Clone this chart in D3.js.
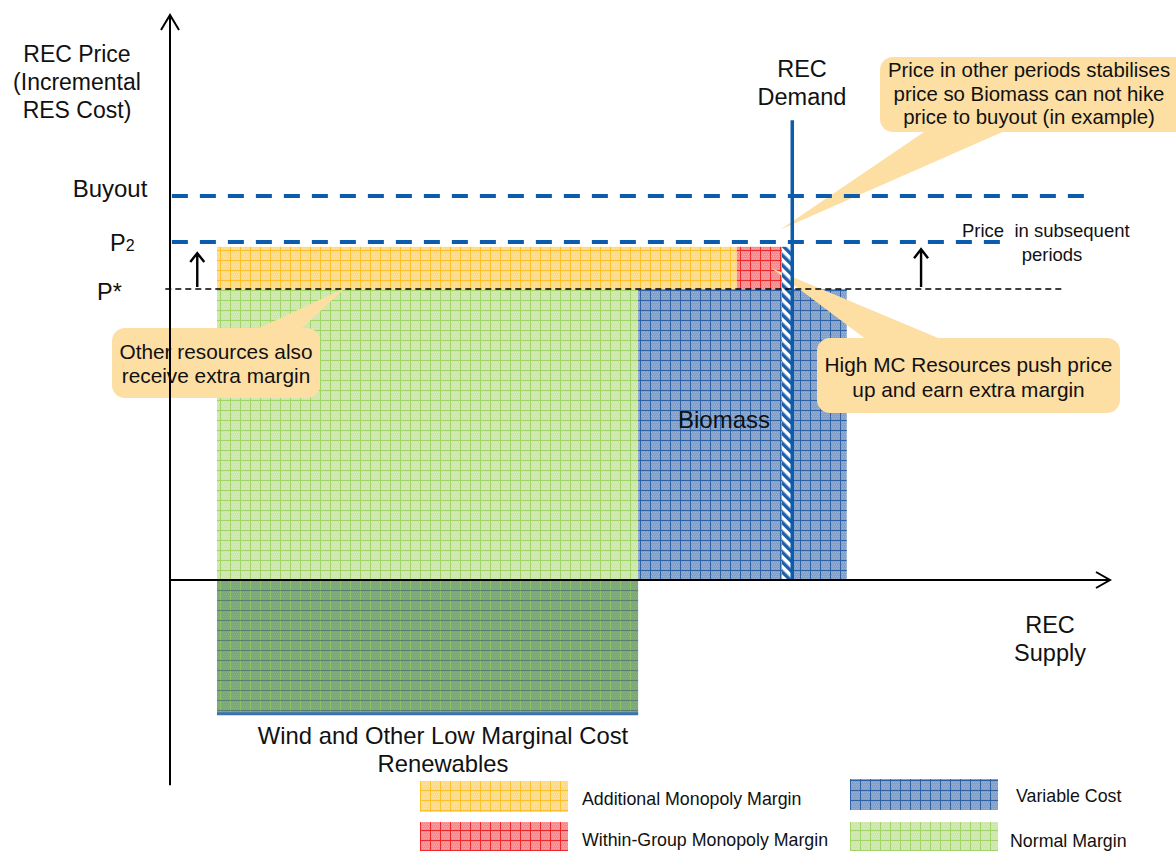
<!DOCTYPE html>
<html>
<head>
<meta charset="utf-8">
<script src="https://cdn.jsdelivr.net/npm/d3@7"></script>
<style>
  body { margin: 0; background: #fff; }
  svg text { font-family: "Liberation Sans", Arial, sans-serif; fill: #111; }
</style>
</head>
<body>
<div class="rec-chart"></div>
<script>
// quantities on the supply axis, prices on the price axis
const supplyBlocks = [
  { name: 'Wind below zero', q0: 5, q1: 49.8, p0: -27.8, p1: 0, fill: 'darkgreen' },
  { name: 'Wind normal margin', q0: 5, q1: 49.8, p0: 0, p1: 60, fill: 'green' },
  { name: 'Biomass', q0: 49.8, q1: 72, p0: 0, p1: 60, fill: 'blue' },
  { name: 'Additional monopoly margin', q0: 5, q1: 60.3, p0: 60, p1: 68.7, fill: 'yellow' },
  { name: 'Within-group monopoly margin', q0: 60.3, q1: 65.1, p0: 60, p1: 68.7, fill: 'red' }
]
const demandQ = 66.2
const demandTop = 94.8
const demandStrip = { q0: 65.1, q1: 66.2, p0: 0, p1: 68.7 }
const priceLines = [
  { name: 'Buyout', p: 79.2, q0: 0.2, q1: 97.3 },
  { name: 'P2', p: 69.7, q0: 0.2, q1: 88.3 }
]
const pStar = { p: 60, q0: -0.5, q1: 95.2 }
const upArrows = [{ q: 2.9, p0: 60.4, p1: 67.4 }, { q: 79.9, p0: 60.4, p1: 68.2 }]
const legendItems = [
  { label: 'Additional Monopoly Margin', fill: 'yellow' },
  { label: 'Within-Group Monopoly Margin', fill: 'red' },
  { label: 'Variable Cost', fill: 'blue' },
  { label: 'Normal Margin', fill: 'green' }
]

const width = 1176, height = 851

const svg = d3.select('.rec-chart').append('svg')
  .attr('width', width)
  .attr('height', height)

// price scale and supply scale
const xScale = d3.scaleLinear().domain([0, 100]).range([170, 1110])
const yScale = d3.scaleLinear().domain([0, 60]).range([580, 289])

// grid patterns like the office "small grid" fill
const patterns = {
  yellow: { bg: '#fdda86', dot: '#fee9b8', line: '#fdc22a' },
  red: { bg: '#f78a8d', dot: '#fbb9ba', line: '#f0282c' },
  blue: { bg: '#82a0c9', dot: '#aac0dc', line: '#2d62a7' },
  green: { bg: '#cde7ab', dot: '#e0f1ca', line: '#a2d568' },
  darkgreen: { bg: '#7ca77b', dot: '#8db58a', line: '#8cc55d', hline: '#58826d' }
}
const defs = svg.append('defs')
Object.keys(patterns).forEach(k => {
  let c = patterns[k]
  let pat = defs.append('pattern')
    .attr('id', 'pat-' + k)
    .attr('patternUnits', 'userSpaceOnUse')
    .attr('width', 10).attr('height', 10)
  pat.append('rect').attr('width', 10).attr('height', 10).attr('fill', c.bg)
  // fine dither
  for (let i = 0; i < 10; i += 2) {
    for (let j = (i / 2) % 2; j < 10; j += 2) {
      pat.append('rect').attr('x', j).attr('y', i).attr('width', 1).attr('height', 1)
        .attr('fill', c.dot).attr('opacity', 0.6)
    }
  }
  pat.append('rect').attr('x', 0).attr('y', 0).attr('width', 1).attr('height', 10).attr('fill', c.line)
  pat.append('rect').attr('x', 0).attr('y', 0).attr('width', 10).attr('height', 1).attr('fill', c.hline || c.line)
})

// hatched demand strip
let hatch = defs.append('pattern')
  .attr('id', 'pat-hatch')
  .attr('patternUnits', 'userSpaceOnUse')
  .attr('width', 7).attr('height', 7)
  .attr('patternTransform', 'rotate(-45)')
hatch.append('rect').attr('width', 7).attr('height', 7).attr('fill', '#fff')
hatch.append('rect').attr('width', 3.5).attr('height', 7).attr('fill', '#1f5ea8')

// supply blocks
svg.append('g').selectAll('rect')
  .data(supplyBlocks)
  .enter().append('rect')
  .attr('x', d => xScale(d.q0))
  .attr('y', d => yScale(d.p1))
  .attr('width', d => xScale(d.q1) - xScale(d.q0))
  .attr('height', d => yScale(d.p0) - yScale(d.p1))
  .attr('fill', d => 'url(#pat-' + d.fill + ')')

// blue edge under the negative wind block
svg.append('line')
  .attr('x1', xScale(supplyBlocks[0].q0)).attr('x2', xScale(supplyBlocks[0].q1))
  .attr('y1', yScale(supplyBlocks[0].p0) - 1).attr('y2', yScale(supplyBlocks[0].p0) - 1)
  .attr('stroke', '#3d6fb3').attr('stroke-width', 3)

// callouts (rounded box plus pointer)
const calloutFill = '#fddfa4'
function callout(box, base, tip, lines, fontSize, lineGap, firstBaseline, textX) {
  let g = svg.append('g')
  g.append('path')
    .attr('d', 'M' + base[0] + ',' + base[1] + 'L' + tip[0] + ',' + tip[1] + 'L' + base[2] + ',' + base[3] + 'Z')
    .attr('fill', calloutFill)
  g.append('rect')
    .attr('x', box.x).attr('y', box.y)
    .attr('width', box.w).attr('height', box.h)
    .attr('rx', 13).attr('fill', calloutFill)
  g.selectAll('text').data(lines).enter().append('text')
    .attr('x', textX || box.x + box.w / 2)
    .attr('y', (d, i) => firstBaseline + i * lineGap)
    .attr('text-anchor', 'middle')
    .attr('font-size', fontSize)
    .text(d => d)
}

callout({ x: 880, y: 57, w: 310, h: 75 }, [927, 130, 1007, 130],
  [xScale(64.9), yScale(72.2)],
  ['Price in other periods stabilises', 'price so Biomass can not hike', 'price to buyout (in example)'],
  20.4, 23.5, 77, 1029)
callout({ x: 112, y: 328, w: 208, h: 70 }, [255, 330, 300, 330],
  [xScale(18.6), yScale(60.2)],
  ['Other resources also', 'receive extra margin'], 20.8, 24, 359)
callout({ x: 817, y: 338, w: 303, h: 75 }, [867, 340, 943, 340],
  [xScale(64), yScale(64.3)],
  ['High MC Resources push price', 'up and earn extra margin'], 20.8, 25, 372)

// hatched strip left of the demand line
svg.append('rect')
  .attr('x', xScale(demandStrip.q0))
  .attr('y', yScale(demandStrip.p1))
  .attr('width', xScale(demandStrip.q1) - xScale(demandStrip.q0))
  .attr('height', yScale(demandStrip.p0) - yScale(demandStrip.p1))
  .attr('fill', 'url(#pat-hatch)')

// demand line
svg.append('line')
  .attr('x1', xScale(demandQ)).attr('x2', xScale(demandQ))
  .attr('y1', yScale(demandTop)).attr('y2', yScale(0))
  .attr('stroke', '#0b5cad').attr('stroke-width', 3.5)

// buyout and P2 dashed lines
svg.append('g').selectAll('line')
  .data(priceLines)
  .enter().append('line')
  .attr('x1', d => xScale(d.q0)).attr('x2', d => xScale(d.q1))
  .attr('y1', d => yScale(d.p)).attr('y2', d => yScale(d.p))
  .attr('stroke', '#0b5cad').attr('stroke-width', 4)
  .attr('stroke-dasharray', '16,12')

// P* thin dashed line
svg.append('line')
  .attr('x1', xScale(pStar.q0)).attr('x2', xScale(pStar.q1))
  .attr('y1', yScale(pStar.p)).attr('y2', yScale(pStar.p))
  .attr('stroke', '#000').attr('stroke-width', 1.3)
  .attr('stroke-dasharray', '6,4')

// small up arrows
upArrows.forEach(a => {
  let x = xScale(a.q), y0 = yScale(a.p0), y1 = yScale(a.p1)
  svg.append('path')
    .attr('d', 'M' + x + ',' + y0 + 'L' + x + ',' + y1 + 'M' + (x - 7) + ',' + (y1 + 9) + 'L' + x + ',' + y1 + 'L' + (x + 7) + ',' + (y1 + 9))
    .attr('fill', 'none').attr('stroke', '#000').attr('stroke-width', 2.4)
})

// axes with open arrow heads
const axisTop = yScale(116.5), axisBottom = yScale(-42.3)
svg.append('path')
  .attr('d', 'M' + xScale(0) + ',' + axisBottom + 'L' + xScale(0) + ',' + axisTop
    + 'M' + (xScale(0) - 9) + ',' + (axisTop + 15) + 'L' + xScale(0) + ',' + axisTop + 'L' + (xScale(0) + 9) + ',' + (axisTop + 15))
  .attr('fill', 'none').attr('stroke', '#000').attr('stroke-width', 2)
svg.append('path')
  .attr('d', 'M' + xScale(0) + ',' + yScale(0) + 'L' + xScale(100) + ',' + yScale(0)
    + 'M' + (xScale(100) - 14) + ',' + (yScale(0) - 8) + 'L' + xScale(100) + ',' + yScale(0) + 'L' + (xScale(100) - 14) + ',' + (yScale(0) + 8))
  .attr('fill', 'none').attr('stroke', '#000').attr('stroke-width', 2)

// labels
function label(x, y, lines, size, anchor, gap) {
  svg.append('g').selectAll('text').data(lines).enter().append('text')
    .attr('x', x).attr('y', (d, i) => y + i * (gap || 0))
    .attr('text-anchor', anchor || 'middle')
    .attr('font-size', size)
    .text(d => d)
}
label(77, 62, ['REC Price', '(Incremental', 'RES Cost)'], 23, 'middle', 28)
label(110, 197, ['Buyout'], 24)
label(802, 77, ['REC', 'Demand'], 23.5, 'middle', 28)
label(1050, 633, ['REC', 'Supply'], 23.5, 'middle', 28)
label(724, 428, ['Biomass'], 24)
label(443, 744, ['Wind and Other Low Marginal Cost', 'Renewables'], 23.8, 'middle', 28)
label(962, 237, ['Price\u00a0 in subsequent'], 18.5, 'start')
label(1052, 261, ['periods'], 18.5)
label(97, 300, ['P*'], 23.5, 'start')
let p2 = svg.append('text').attr('x', 110).attr('y', 251).attr('font-size', 23.5)
p2.append('tspan').text('P')
p2.append('tspan').attr('font-size', 16).text('2')

// legend
const legendPos = [[420, 781], [420, 822], [850, 779], [850, 822]]
const legendTextPos = [[582, 805], [582, 846], [1016, 802], [1010, 847]]
let legend = svg.append('g')
legend.selectAll('rect').data(legendItems).enter().append('rect')
  .attr('x', (d, i) => legendPos[i][0]).attr('y', (d, i) => legendPos[i][1])
  .attr('width', 148).attr('height', 31)
  .attr('fill', d => 'url(#pat-' + d.fill + ')')
legend.selectAll('text').data(legendItems).enter().append('text')
  .attr('x', (d, i) => legendTextPos[i][0]).attr('y', (d, i) => legendTextPos[i][1])
  .attr('font-size', 17.8)
  .text(d => d.label)
</script>
</body>
</html>
